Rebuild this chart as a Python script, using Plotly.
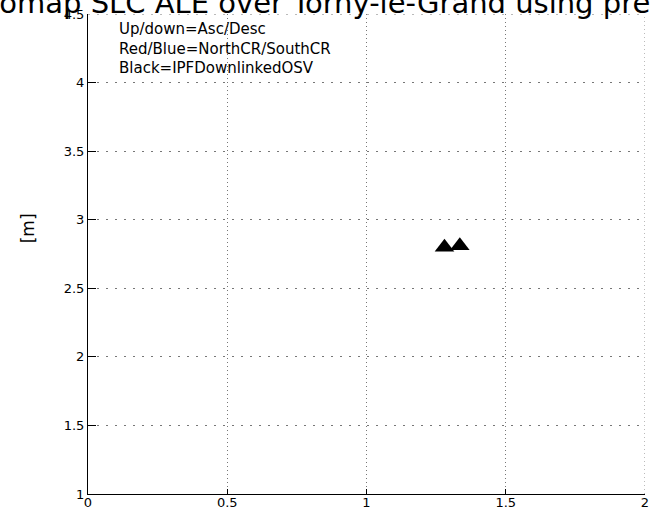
import plotly.graph_objects as go

# data
osv_x = [1.28, 1.335]
osv_y = [2.80, 2.81]

x_ticks = [0, 0.5, 1, 1.5, 2]
y_ticks = [1, 1.5, 2, 2.5, 3, 3.5, 4, 4.5]

title_text = "Geomap SLC ALE over Torny-le-Grand using precise orbits"
legend_lines = ["Up/down=Asc/Desc", "Red/Blue=NorthCR/SouthCR", "Black=IPFDownlinkedOSV"]
ylabel_text = "[m]"

W, H = 650, 511
L, R, T, B = 88, 5, 13.5, 17
pw = W - L - R
ph = H - T - B

def px2x(p):
    return (p - L) / pw

def py2y(p):
    return (H - B - p) / ph

fig = go.Figure()
fig.add_trace(go.Scatter(
    x=osv_x, y=osv_y, mode="markers",
    marker=dict(symbol="triangle-up", size=17, color="black",
                line=dict(width=0)),
    showlegend=False, hoverinfo="skip"))

font_main = "DejaVu Sans, Liberation Sans, Arial"
grid_col = "#777"

axis_common = dict(
    showline=True, linecolor="black", linewidth=1, mirror=False,
    ticks="inside", tickcolor="black", zeroline=False, automargin=False,
    showgrid=True, gridcolor=grid_col, gridwidth=1,
    tickfont=dict(family=font_main, size=13, color="black"),
)

fig.update_xaxes(range=[min(x_ticks), max(x_ticks)], tickvals=x_ticks, ticklen=5,
                 griddash="1px,3px", ticklabelstandoff=-4, **axis_common)
fig.update_yaxes(range=[min(y_ticks), max(y_ticks)], tickvals=y_ticks, ticklen=8,
                 griddash="2px,7px", **axis_common)

fig.add_shape(type="line", xref="x", yref="y",
              x0=min(x_ticks), x1=max(x_ticks), y0=max(y_ticks), y1=max(y_ticks),
              line=dict(color=grid_col, width=1, dash="2px,7px"), layer="below")
fig.add_shape(type="line", xref="x", yref="y",
              x0=max(x_ticks), x1=max(x_ticks), y0=min(y_ticks), y1=max(y_ticks),
              line=dict(color=grid_col, width=1, dash="1px,3px"), layer="below")

annotations = []
annotations.append(dict(
    text=title_text, xref="paper", yref="paper",
    x=px2x(-43), y=py2y(2), xanchor="left", yanchor="middle",
    showarrow=False, font=dict(family=font_main, size=29, color="black")))
annotations.append(dict(
    text="<br>".join(legend_lines), xref="paper", yref="paper",
    x=px2x(117), y=py2y(18), xanchor="left", yanchor="top", align="left",
    showarrow=False, font=dict(family=font_main, size=15, color="black")))
annotations.append(dict(
    text=ylabel_text, xref="paper", yref="paper",
    x=px2x(28), y=py2y(228), xanchor="center", yanchor="middle",
    textangle=-90, showarrow=False,
    font=dict(family=font_main, size=17, color="black")))

fig.update_layout(
    width=W, height=H,
    margin=dict(l=L, r=R, t=T, b=B, pad=0, autoexpand=False),
    plot_bgcolor="white", paper_bgcolor="white",
    annotations=annotations,
)

fig.write_html("out.html")
